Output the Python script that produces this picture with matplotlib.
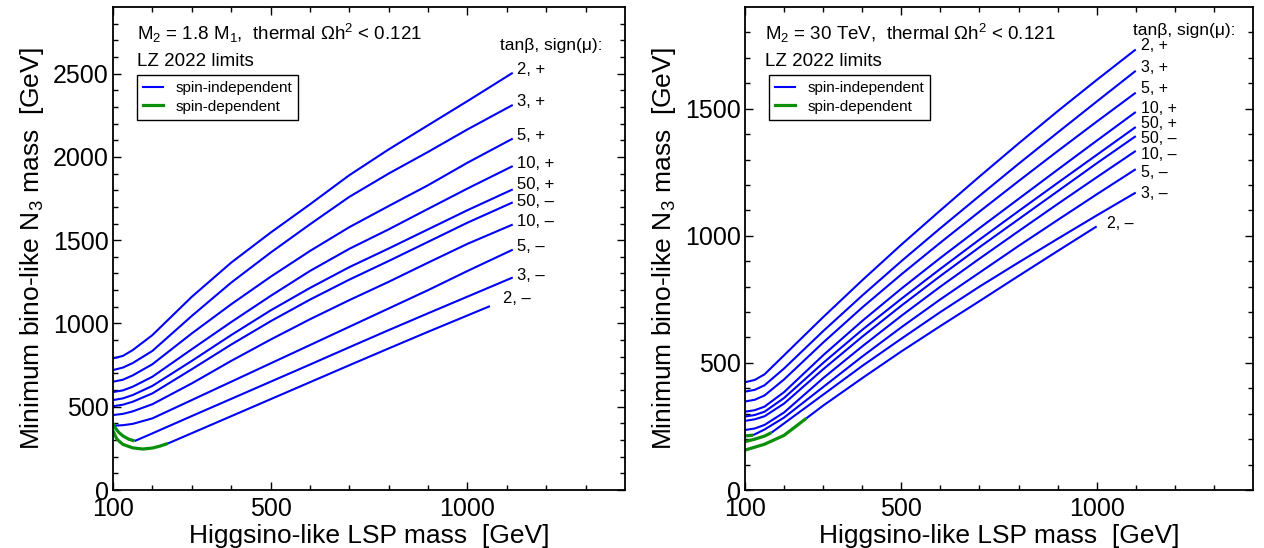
import matplotlib
matplotlib.use('Agg')
import matplotlib.pyplot as plt
from matplotlib.lines import Line2D

plt.rcParams['font.family'] = ['Liberation Sans', 'DejaVu Sans']
plt.rcParams['mathtext.fontset'] = 'custom'
plt.rcParams['mathtext.rm'] = 'Liberation Sans'
plt.rcParams['mathtext.it'] = 'Liberation Sans:italic'
plt.rcParams['mathtext.bf'] = 'Liberation Sans:bold'

# ---------------- data: left panel (M2 = 1.8 M1) ----------------
LX = [100, 125, 150, 200, 300, 400, 500, 600, 700, 800, 900, 1000, 1115]
L_2P = [790, 805, 840, 930, 1160, 1365, 1545, 1715, 1890, 2045, 2190, 2335, 2505]
L_3P = [720, 735, 762, 835, 1045, 1245, 1425, 1595, 1760, 1900, 2030, 2165, 2312]
L_5P = [650, 662, 688, 755, 940, 1115, 1280, 1435, 1578, 1705, 1830, 1965, 2110]
L_10P = [588, 598, 620, 680, 845, 1008, 1165, 1315, 1448, 1565, 1688, 1810, 1945]
L_50P = [540, 550, 570, 625, 775, 930, 1078, 1213, 1338, 1450, 1565, 1680, 1805]
L_50M = [503, 512, 530, 580, 725, 873, 1013, 1143, 1263, 1375, 1490, 1605, 1727]
L_10M = [450, 457, 472, 515, 640, 775, 903, 1025, 1140, 1250, 1365, 1478, 1594]
L_5M = [386, 389, 397, 430, 540, 650, 760, 870, 980, 1090, 1200, 1315, 1443]
# 3,- : spin-dependent start then spin-independent
L_3M_SD_X = [100, 105, 115, 125, 140, 155]
L_3M_SD_Y = [400, 375, 345, 325, 305, 294]
L_3M_SI_X = [155, 200, 300, 400, 500, 600, 700, 800, 900, 1000, 1115]
L_3M_SI_Y = [294, 340, 444, 547, 650, 753, 857, 960, 1061, 1161, 1276]
# 2,-
L_2M_SD_X = [100, 110, 125, 150, 176, 200, 220, 240]
L_2M_SD_Y = [355, 305, 274, 253, 246, 252, 264, 280]
L_2M_SI_X = [240, 300, 400, 500, 600, 700, 800, 900, 1000, 1057]
L_2M_SI_Y = [280, 341, 443, 545, 647, 749, 850, 950, 1048, 1104]

# ---------------- data: right panel (M2 = 30 TeV) ----------------
RX = [100, 125, 150, 200, 300, 400, 500, 600, 700, 800, 900, 1000, 1100]
R_2P = [424, 433, 455, 530, 680, 825, 965, 1100, 1233, 1363, 1490, 1613, 1733]
R_3P = [387, 394, 412, 478, 625, 765, 900, 1030, 1157, 1283, 1406, 1528, 1649]
R_5P = [348, 355, 372, 435, 580, 718, 848, 973, 1095, 1215, 1333, 1449, 1563]
R_10P = [308, 314, 328, 385, 530, 665, 792, 913, 1030, 1145, 1260, 1374, 1487]
R_50P = [289, 295, 308, 362, 500, 630, 752, 870, 985, 1097, 1208, 1318, 1428]
R_50M = [272, 278, 290, 340, 475, 603, 725, 842, 955, 1065, 1175, 1285, 1392]
R_10M = [236, 242, 256, 305, 440, 565, 685, 800, 910, 1018, 1125, 1230, 1334]
R_5M_SD_X = [100, 110, 121]
R_5M_SD_Y = [213, 214, 216]
R_5M_SI_X = [121, 150, 200, 300, 400, 500, 600, 700, 800, 900, 1000, 1100]
R_5M_SI_Y = [216, 238, 285, 405, 525, 640, 750, 855, 960, 1062, 1163, 1262]
R_3M_SD_X = [100, 125, 150, 168]
R_3M_SD_Y = [190, 200, 212, 226]
R_3M_SI_X = [168, 200, 300, 400, 500, 600, 700, 800, 900, 1000, 1100]
R_3M_SI_Y = [226, 262, 375, 488, 595, 700, 800, 895, 988, 1080, 1170]
R_2M_SD_X = [100, 150, 200, 257]
R_2M_SD_Y = [157, 180, 215, 282]
R_2M_SI_X = [257, 300, 400, 500, 600, 700, 800, 900, 1000]
R_2M_SI_Y = [282, 332, 440, 545, 645, 743, 842, 940, 1037]

LABELS = ["2, +", "3, +", "5, +", "10, +", "50, +", "50, \u2013", "10, \u2013", "5, \u2013", "3, \u2013", "2, \u2013"]

BLUE = '#0000ff'
GREEN = '#0a8f0a'
LW_SI = 1.5
LW_SD = 2.3

fig = plt.figure(figsize=(12.64, 5.48), dpi=100)
axL = fig.add_axes([113/1264, 58/548, 512/1264, 483/548])
axR = fig.add_axes([745/1264, 58/548, 508/1264, 483/548])


def style_axes(ax, ymax, ymajor):
    ax.set_xlim(100, 1400)
    ax.set_ylim(0, ymax)
    ax.set_xticks([100, 500, 1000])
    ax.set_xticklabels(['100', '500', '1000'])
    ax.set_xticks(list(range(200, 1400, 100)), minor=True)
    ax.set_yticks(ymajor)
    ax.set_yticks(list(range(100, ymax, 100)), minor=True)
    ax.tick_params(which='both', direction='in', top=True, right=True, labelsize=18)
    ax.tick_params(which='major', length=6, width=1.0)
    ax.tick_params(which='minor', length=3.5, width=1.0)
    ax.tick_params(axis='y', pad=3)
    ax.tick_params(axis='x', pad=5)
    for s in ax.spines.values():
        s.set_linewidth(1.3)
    ax.set_xlabel('Higgsino-like LSP mass  [GeV]', fontsize=19, labelpad=2)
    ax.set_ylabel('Minimum bino-like N$_3$ mass  [GeV]', fontsize=19, labelpad=5)


def si(ax, x, y):
    ax.plot(x, y, color=BLUE, lw=LW_SI, solid_joinstyle='round', solid_capstyle='butt')


def sd(ax, x, y):
    ax.plot(x, y, color=GREEN, lw=LW_SD, solid_joinstyle='round', solid_capstyle='butt')


def label(ax, text, x, y, dx, dy, size=12):
    ax.annotate(text, xy=(x, y), xytext=(dx, dy), textcoords='offset pixels',
                ha='left', va='center', fontsize=size)


# ---------- left panel ----------
style_axes(axL, 2900, [0, 500, 1000, 1500, 2000, 2500])
left_dy = [3, 3, 3, 3, 5, 1, 3, 3]
for ys, lab, dy in zip([L_2P, L_3P, L_5P, L_10P, L_50P, L_50M, L_10M, L_5M], LABELS[:8], left_dy):
    si(axL, LX, ys)
    label(axL, lab, LX[-1], ys[-1], 4, dy)
sd(axL, L_3M_SD_X, L_3M_SD_Y)
si(axL, L_3M_SI_X, L_3M_SI_Y)
label(axL, LABELS[8], L_3M_SI_X[-1], L_3M_SI_Y[-1], 4, 2)
sd(axL, L_2M_SD_X, L_2M_SD_Y)
si(axL, L_2M_SI_X, L_2M_SI_Y)
label(axL, LABELS[9], L_2M_SI_X[-1], L_2M_SI_Y[-1], 13, 8)

axL.text(0.047, 0.932, 'M$_2$ = 1.8 M$_1$,  thermal \u03a9h$^2$ < 0.121', transform=axL.transAxes,
         fontsize=13.5, ha='left', va='baseline')
axL.text(0.047, 0.877, 'LZ 2022 limits', transform=axL.transAxes,
         fontsize=13.5, ha='left', va='baseline')
axL.text(0.957, 0.921, 'tan\u03b2, sign(\u03bc):', transform=axL.transAxes,
         fontsize=12.5, ha='right', va='center')

# ---------- right panel ----------
style_axes(axR, 1900, [0, 500, 1000, 1500])
right_dy = [4, 3, 4, 3, 3, -2, -4]
for ys, lab, dy in zip([R_2P, R_3P, R_5P, R_10P, R_50P, R_50M, R_10M], LABELS[:7], right_dy):
    si(axR, RX, ys)
    label(axR, lab, RX[-1], ys[-1], 5, dy, size=11.5)
sd(axR, R_5M_SD_X, R_5M_SD_Y)
si(axR, R_5M_SI_X, R_5M_SI_Y)
label(axR, LABELS[7], R_5M_SI_X[-1], R_5M_SI_Y[-1], 5, -3, size=11.5)
sd(axR, R_3M_SD_X, R_3M_SD_Y)
si(axR, R_3M_SI_X, R_3M_SI_Y)
label(axR, LABELS[8], R_3M_SI_X[-1], R_3M_SI_Y[-1], 5, -1, size=11.5)
sd(axR, R_2M_SD_X, R_2M_SD_Y)
si(axR, R_2M_SI_X, R_2M_SI_Y)
label(axR, LABELS[9], R_2M_SI_X[-1], R_2M_SI_Y[-1], 10, 3, size=11.5)

axR.text(0.039, 0.932, 'M$_2$ = 30 TeV,  thermal \u03a9h$^2$ < 0.121', transform=axR.transAxes,
         fontsize=13.5, ha='left', va='baseline')
axR.text(0.039, 0.877, 'LZ 2022 limits', transform=axR.transAxes,
         fontsize=13.5, ha='left', va='baseline')
axR.text(0.965, 0.952, 'tan\u03b2, sign(\u03bc):', transform=axR.transAxes,
         fontsize=12.5, ha='right', va='center')

# ---------- legends ----------
handles = [Line2D([], [], color=BLUE, lw=LW_SI), Line2D([], [], color=GREEN, lw=LW_SD)]
names = ['spin-independent', 'spin-dependent']
for ax in (axL, axR):
    leg = ax.legend(handles, names, loc='upper left', bbox_to_anchor=(0.047, 0.859),
                    borderaxespad=0, fontsize=11, frameon=True, fancybox=False,
                    framealpha=1, edgecolor='black', handlelength=1.3,
                    handletextpad=0.8, labelspacing=0.3, borderpad=0.4)
    leg.get_frame().set_linewidth(1.0)

fig.savefig('out.png', dpi=100)
